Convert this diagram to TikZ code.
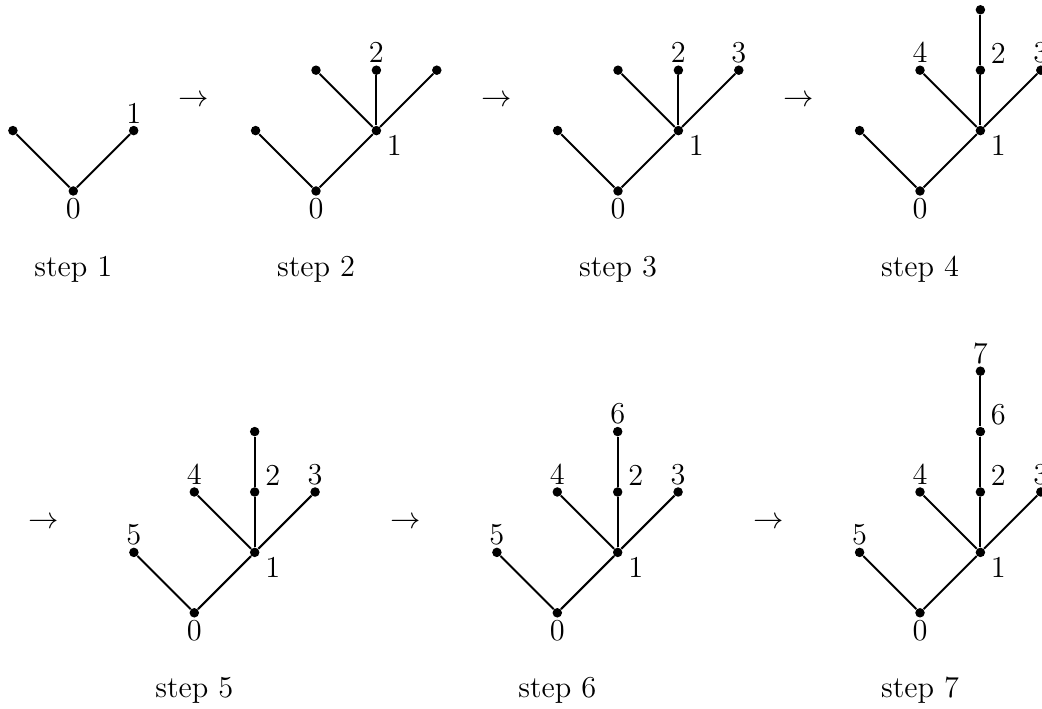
\documentclass[tikz,border=0pt]{standalone}
\begin{document}
\begin{tikzpicture}[x=0.0166667cm,y=-0.0166667cm,
  dot/.style={circle,fill=black,inner sep=0pt,minimum size=4.5pt},
  edge/.style={line width=0.95pt},
  lab/.style={inner sep=0pt,anchor=center,font=\fontsize{14.4}{17}\selectfont},
  capt/.style={inner sep=0pt,anchor=base,font=\fontsize{14.4}{17}\selectfont},
  arr/.style={inner sep=0pt,anchor=base,font=\fontsize{14.4}{17}\selectfont}]
\useasboundingbox (0,0) rectangle (1042,709);
\clip (0,0) rectangle (1042,709);

% ---------- step 1
\begin{scope}[shift={(73.3,191)}]
  \node[dot] (a0) at (0,0) {};
  \node[dot] (aL) at (-60.4,-60.4) {};
  \node[dot] (a1) at (60.4,-60.4) {};
  \draw[edge] (aL) -- (a0) -- (a1);
  \node[lab] (a0t) at (0,17.5) {0};
  \node[lab] (a1t) at (60.4,-77.9) {1};
  \node[capt] (acap) at (0,86) {step 1};
\end{scope}
\node[arr] (arr1) at (194,106.6) {$\rightarrow$};

% ---------- step 2
\begin{scope}[shift={(316,191)}]
  \node[dot] (b0) at (0,0) {};
  \node[dot] (bL) at (-60.4,-60.4) {};
  \node[dot] (b1) at (60.4,-60.4) {};
  \node[dot] (bc1) at (0,-120.8) {};
  \node[dot] (bc2) at (60.4,-120.8) {};
  \node[dot] (bc3) at (120.8,-120.8) {};
  \draw[edge] (bL) -- (b0) -- (b1);
  \draw[edge] (b1) -- (bc1);
  \draw[edge] (b1) -- (bc2);
  \draw[edge] (b1) -- (bc3);
  \node[lab] (b0t) at (0,17.5) {0};
  \node[lab] (b1t) at (78.4,-45.4) {1};
  \node[lab] (b2t) at (60.4,-138.3) {2};
  \node[capt] (bcap) at (0,86) {step 2};
\end{scope}
\node[arr] (arr2) at (497,106.6) {$\rightarrow$};

% ---------- step 3
\begin{scope}[shift={(618,191)}]
  \node[dot] (c0) at (0,0) {};
  \node[dot] (cL) at (-60.4,-60.4) {};
  \node[dot] (c1) at (60.4,-60.4) {};
  \node[dot] (cc1) at (0,-120.8) {};
  \node[dot] (cc2) at (60.4,-120.8) {};
  \node[dot] (cc3) at (120.8,-120.8) {};
  \draw[edge] (cL) -- (c0) -- (c1);
  \draw[edge] (c1) -- (cc1);
  \draw[edge] (c1) -- (cc2);
  \draw[edge] (c1) -- (cc3);
  \node[lab] (c0t) at (0,17.5) {0};
  \node[lab] (c1t) at (78.4,-45.4) {1};
  \node[lab] (c2t) at (60.4,-138.3) {2};
  \node[lab] (c3t) at (120.8,-138.3) {3};
  \node[capt] (ccap) at (0,86) {step 3};
\end{scope}
\node[arr] (arr3) at (799,106.6) {$\rightarrow$};

% ---------- step 4
\begin{scope}[shift={(920,191)}]
  \node[dot] (d0) at (0,0) {};
  \node[dot] (dL) at (-60.4,-60.4) {};
  \node[dot] (d1) at (60.4,-60.4) {};
  \node[dot] (dc1) at (0,-120.8) {};
  \node[dot] (dc2) at (60.4,-120.8) {};
  \node[dot] (dc3) at (120.8,-120.8) {};
  \node[dot] (dtop) at (60.4,-181.2) {};
  \draw[edge] (dL) -- (d0) -- (d1);
  \draw[edge] (d1) -- (dc1);
  \draw[edge] (d1) -- (dc2) -- (dtop);
  \draw[edge] (d1) -- (dc3);
  \node[lab] (d0t) at (0,17.5) {0};
  \node[lab] (d1t) at (78.4,-45.4) {1};
  \node[lab] (d4t) at (0,-138.3) {4};
  \node[lab] (d2t) at (78.4,-137.3) {2};
  \node[lab] (d3t) at (120.8,-138.3) {3};
  \node[capt] (dcap) at (0,86) {step 4};
\end{scope}

% ---------- step 5
\node[arr] (arr4) at (43.5,528.6) {$\rightarrow$};
\begin{scope}[shift={(194.3,612.8)}]
  \node[dot] (e0) at (0,0) {};
  \node[dot] (eL) at (-60.4,-60.4) {};
  \node[dot] (e1) at (60.4,-60.4) {};
  \node[dot] (ec1) at (0,-120.8) {};
  \node[dot] (ec2) at (60.4,-120.8) {};
  \node[dot] (ec3) at (120.8,-120.8) {};
  \node[dot] (etop) at (60.4,-181.2) {};
  \draw[edge] (eL) -- (e0) -- (e1);
  \draw[edge] (e1) -- (ec1);
  \draw[edge] (e1) -- (ec2) -- (etop);
  \draw[edge] (e1) -- (ec3);
  \node[lab] (e0t) at (0,17.5) {0};
  \node[lab] (e1t) at (78.4,-45.4) {1};
  \node[lab] (e5t) at (-60.4,-77.9) {5};
  \node[lab] (e4t) at (0,-138.3) {4};
  \node[lab] (e2t) at (78.4,-137.3) {2};
  \node[lab] (e3t) at (120.8,-138.3) {3};
  \node[capt] (ecap) at (0,85.2) {step 5};
\end{scope}
\node[arr] (arr5) at (406,528.6) {$\rightarrow$};

% ---------- step 6
\begin{scope}[shift={(557.3,612.8)}]
  \node[dot] (f0) at (0,0) {};
  \node[dot] (fL) at (-60.4,-60.4) {};
  \node[dot] (f1) at (60.4,-60.4) {};
  \node[dot] (fc1) at (0,-120.8) {};
  \node[dot] (fc2) at (60.4,-120.8) {};
  \node[dot] (fc3) at (120.8,-120.8) {};
  \node[dot] (ftop) at (60.4,-181.2) {};
  \draw[edge] (fL) -- (f0) -- (f1);
  \draw[edge] (f1) -- (fc1);
  \draw[edge] (f1) -- (fc2) -- (ftop);
  \draw[edge] (f1) -- (fc3);
  \node[lab] (f0t) at (0,17.5) {0};
  \node[lab] (f1t) at (78.4,-45.4) {1};
  \node[lab] (f5t) at (-60.4,-77.9) {5};
  \node[lab] (f4t) at (0,-138.3) {4};
  \node[lab] (f2t) at (78.4,-137.3) {2};
  \node[lab] (f3t) at (120.8,-138.3) {3};
  \node[lab] (f6t) at (60.4,-198.7) {6};
  \node[capt] (fcap) at (0,85.2) {step 6};
\end{scope}
\node[arr] (arr6) at (769,528.6) {$\rightarrow$};

% ---------- step 7
\begin{scope}[shift={(920,612.8)}]
  \node[dot] (g0) at (0,0) {};
  \node[dot] (gL) at (-60.4,-60.4) {};
  \node[dot] (g1) at (60.4,-60.4) {};
  \node[dot] (gc1) at (0,-120.8) {};
  \node[dot] (gc2) at (60.4,-120.8) {};
  \node[dot] (gc3) at (120.8,-120.8) {};
  \node[dot] (gtop) at (60.4,-181.2) {};
  \node[dot] (gtop2) at (60.4,-241.6) {};
  \draw[edge] (gL) -- (g0) -- (g1);
  \draw[edge] (g1) -- (gc1);
  \draw[edge] (g1) -- (gc2) -- (gtop) -- (gtop2);
  \draw[edge] (g1) -- (gc3);
  \node[lab] (g0t) at (0,17.5) {0};
  \node[lab] (g1t) at (78.4,-45.4) {1};
  \node[lab] (g5t) at (-60.4,-77.9) {5};
  \node[lab] (g4t) at (0,-138.3) {4};
  \node[lab] (g2t) at (78.4,-137.3) {2};
  \node[lab] (g3t) at (120.8,-138.3) {3};
  \node[lab] (g6t) at (78.4,-197.7) {6};
  \node[lab] (g7t) at (60.4,-259.1) {7};
  \node[capt] (gcap) at (0,85.2) {step 7};
\end{scope}
\end{tikzpicture}
\end{document}
